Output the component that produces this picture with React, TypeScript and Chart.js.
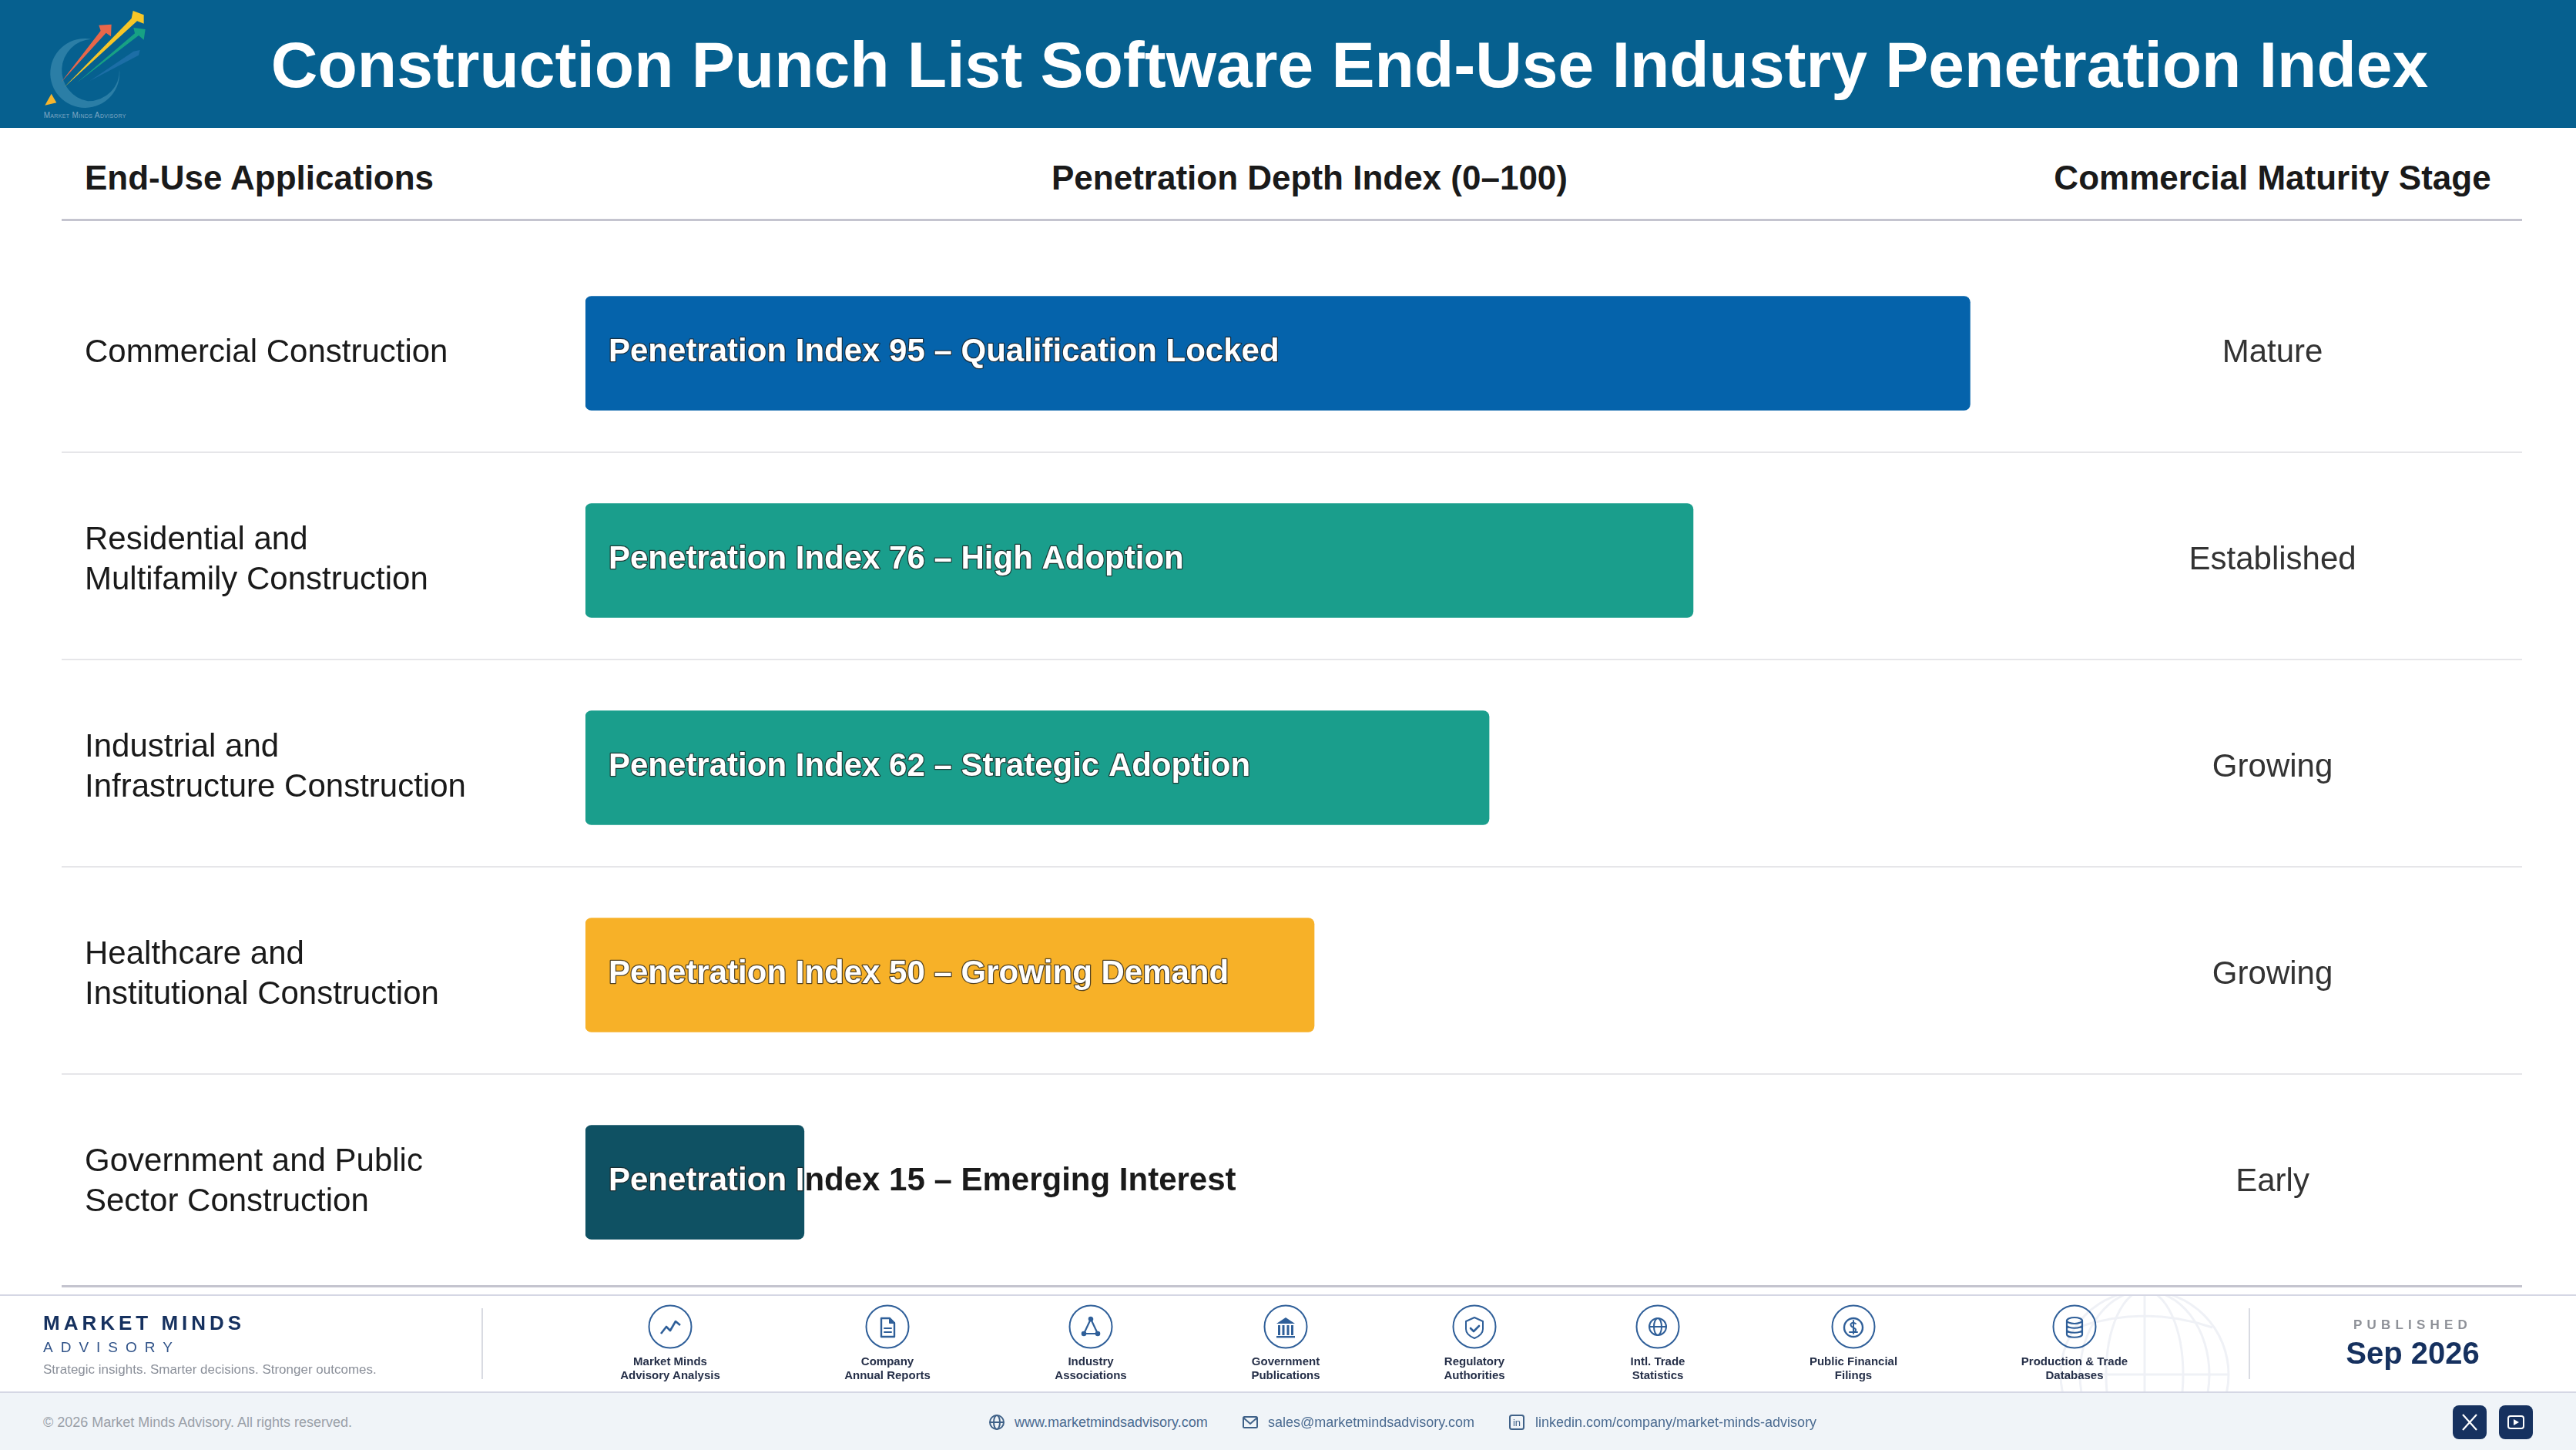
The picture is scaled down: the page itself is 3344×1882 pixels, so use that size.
import { useEffect, useRef, type CSSProperties, type ReactNode } from "react"
import Chart from "chart.js/auto"

const FONT = '"Liberation Sans", Arial, sans-serif'

const applications = [
  "Commercial Construction",
  ["Residential and", "Multifamily Construction"],
  ["Industrial and", "Infrastructure Construction"],
  ["Healthcare and", "Institutional Construction"],
  ["Government and Public", "Sector Construction"],
]
const penetrationIndex = [95, 76, 62, 50, 15]
const adoptionTiers = ["Qualification Locked", "High Adoption", "Strategic Adoption", "Growing Demand", "Emerging Interest"]
const maturityStages = ["Mature", "Established", "Growing", "Growing", "Early"]
const barColors = ["#0563ab", "#1a9e8c", "#1a9e8c", "#f7b128", "#0f5163"]

const sources = [
  { name: ["Market Minds", "Advisory Analysis"], x: 870, icon: "chart" },
  { name: ["Company", "Annual Reports"], x: 1152, icon: "doc" },
  { name: ["Industry", "Associations"], x: 1416, icon: "network" },
  { name: ["Government", "Publications"], x: 1669, icon: "bank" },
  { name: ["Regulatory", "Authorities"], x: 1914, icon: "shield" },
  { name: ["Intl. Trade", "Statistics"], x: 2152, icon: "globe" },
  { name: ["Public Financial", "Filings"], x: 2406, icon: "coin" },
  { name: ["Production & Trade", "Databases"], x: 2693, icon: "db" },
]

// value labels are white inside the bar and dark past its end
const barLabels = {
  id: "barLabels",
  beforeDatasetsDraw(chart: any) {
    const { ctx, scales } = chart
    ctx.save()
    ctx.strokeStyle = "#e6e6e9"
    ctx.lineWidth = 2
    for (let i = 0; i < penetrationIndex.length - 1; i++) {
      const y = Math.round(scales.y.getPixelForValue(i + 0.5)) - 6
      ctx.beginPath()
      ctx.moveTo(80, y)
      ctx.lineTo(3274, y)
      ctx.stroke()
    }
    ctx.restore()
  },
  afterDatasetsDraw(chart: any) {
    const { ctx } = chart
    const bars = chart.getDatasetMeta(0).data
    bars.forEach((bar: any, i: number) => {
      const text = `Penetration Index ${penetrationIndex[i]} – ${adoptionTiers[i]}`
      const tx = bar.base + 30
      const ty = bar.y - 1
      ctx.save()
      ctx.font = `bold 42px ${FONT}`
      ctx.textBaseline = "middle"
      ctx.textAlign = "left"
      ctx.fillStyle = "#1a1a1a"
      ctx.fillText(text, tx, ty)
      ctx.beginPath()
      ctx.rect(bar.base, bar.y - 74, bar.x - bar.base, 148)
      ctx.clip()
      ctx.fillStyle = "#ffffff"
      ctx.strokeStyle = "rgba(30,30,30,0.75)"
      ctx.lineWidth = 2.5
      ctx.lineJoin = "round"
      ctx.strokeText(text, tx, ty)
      ctx.fillText(text, tx, ty)
      ctx.restore()
    })
  },
}

function Txt({ x, y, align = "left", style, children }: { x: number; y: number; align?: "left" | "center"; style: CSSProperties; children: ReactNode }) {
  const tx = align === "center" ? "-50%" : "0"
  return (
    <div style={{ position: "absolute", left: x, top: y, transform: `translate(${tx},-50%)`, whiteSpace: "nowrap", fontFamily: FONT, textAlign: align, ...style }}>
      {children}
    </div>
  )
}

function Box({ x, y, w, h, color }: { x: number; y: number; w: number; h: number; color: string }) {
  return <div style={{ position: "absolute", left: x, top: y, width: w, height: h, background: color }} />
}

function SourceGlyph({ icon }: { icon: string }) {
  const c = "#2f5f99"
  const common = { fill: "none", stroke: c, strokeWidth: 2, strokeLinejoin: "round" as const, strokeLinecap: "round" as const }
  switch (icon) {
    case "chart":
      return <path d="M-12 9 L-5 0 L0 5 L7 -7 L13 -2" {...common} strokeWidth={2.6} strokeLinecap="butt" />
    case "doc":
      return (
        <g {...common}>
          <path d="M-8 -11 H3 L9 -5 V13 H-8 Z" strokeWidth={2.4} />
          <path d="M-4 2 H5 M-4 7 H5" />
          <path d="M3 -11 V-5 H9" fill={c} />
        </g>
      )
    case "network":
      return (
        <g {...common} strokeWidth={2.2}>
          <path d="M0 -10 L-9 9 H9 Z" />
          <circle cx={0} cy={-10} r={2.2} fill={c} />
          <circle cx={-9} cy={9} r={2.2} fill={c} />
          <circle cx={9} cy={9} r={2.2} fill={c} />
        </g>
      )
    case "bank":
      return (
        <g fill={c}>
          <path d="M0 -12 L12 -4 H-12 Z" />
          <rect x={-10} y={-2} width={3} height={13} />
          <rect x={-4.5} y={-2} width={3} height={13} />
          <rect x={1.5} y={-2} width={3} height={13} />
          <rect x={7} y={-2} width={3} height={13} />
          <rect x={-12} y={12} width={24} height={2.4} />
        </g>
      )
    case "shield":
      return (
        <g {...common}>
          <path d="M0 -12 L11 -7 V3 C11 9 5 13 0 15 C-5 13 -11 9 -11 3 V-7 Z" />
          <path d="M-5 2 L-1 6 L6 -1" strokeWidth={2.6} />
        </g>
      )
    case "globe":
      return (
        <g {...common}>
          <circle r={11} />
          <ellipse rx={5} ry={11} />
          <path d="M-11 0 H11" />
        </g>
      )
    case "coin":
      return (
        <g {...common}>
          <circle cy={1} r={12} strokeWidth={2.4} />
          <path d="M3 -4 C-1 -7 -5 -4 -3 -1 C-1 2 4 1 3 5 C2 8 -2 7 -5 7 H5 M0 -8 V9" />
        </g>
      )
    default:
      return (
        <g {...common} strokeWidth={2.2}>
          <ellipse cy={-8} rx={10} ry={4} />
          <path d="M-10 -8 V10 C-10 15 10 15 10 10 V-8 M-10 -2 C-10 3 10 3 10 -2 M-10 4 C-10 9 10 9 10 4" />
        </g>
      )
  }
}

function Logo() {
  return (
    <svg style={{ position: "absolute", left: 40, top: 0 }} width={170} height={166} viewBox="0 0 510 498">
      <path d="M235 152 A135 135 0 1 0 345 270 A122 118 0 0 1 222 394 A122 122 0 0 1 235 152 Z" fill="#2b7ea6" />
      <polygon points="230,315 400,200 425,195 420,215" fill="#1c6ea6" />
      <polygon points="118,320 272,120 265,98 314,95 312,142 293,128" fill="#e8674a" />
      <polygon points="180,322 405,130 400,108 446,114 440,155 420,138" fill="#17a184" />
      <polygon points="130,340 392,72 398,42 440,58 440,92 414,82" fill="#f6c627" />
      <polygon points="80,365 100,400 55,410" fill="#f6b52d" />
      <text x={210} y={460} textAnchor="middle" fontFamily={FONT} fontSize={30} fill="#7fa8c4" style={{ fontVariant: "small-caps" }} textLength={320}>
        Market Minds Advisory
      </text>
    </svg>
  )
}

export default function App() {
  const chartRef = useRef<HTMLCanvasElement>(null)

  useEffect(() => {
    if (!chartRef.current) return
    const chart = new Chart(chartRef.current, {
      type: "bar",
      data: {
        labels: applications as any,
        datasets: [
          {
            data: penetrationIndex,
            backgroundColor: barColors,
            borderRadius: 8,
            borderSkipped: false,
            barThickness: 148,
          },
        ],
      },
      plugins: [barLabels],
      options: {
        indexAxis: "y",
        animation: false,
        responsive: false,
        devicePixelRatio: 1,
        layout: { padding: { left: 110, top: 324, bottom: 213, right: 0 } },
        plugins: { legend: { display: false }, tooltip: { enabled: false } },
        scales: {
          x: { display: false, min: 0, max: 100 },
          y: {
            grid: { display: false },
            border: { display: false },
            afterFit: (s: any) => {
              s.width = 650
            },
            ticks: {
              crossAlign: "far",
              autoSkip: false,
              color: "#1a1a1a",
              font: { family: FONT, size: 42, lineHeight: 1.24 },
            },
          },
          y2: {
            type: "category",
            position: "right",
            offset: true,
            labels: maturityStages,
            grid: { display: false },
            border: { display: false },
            afterFit: (s: any) => {
              s.width = 692
            },
            ticks: {
              crossAlign: "center",
              autoSkip: false,
              padding: 181.5,
              color: "#333333",
              font: { family: FONT, size: 42 },
            },
          },
        },
      } as any,
    })
    return () => chart.destroy()
  }, [])

  const head: CSSProperties = { fontSize: 44, fontWeight: 700, color: "#1a1a1a" }
  const contact: CSSProperties = { fontSize: 18, color: "#4a6a90" }
  const iconStroke = { fill: "none", stroke: "#3f6188", strokeWidth: 2 }

  return (
    <div style={{ position: "absolute", left: 0, top: 0, width: 3344, height: 1882, overflow: "hidden", background: "#ffffff" }}>
      <Box x={0} y={0} w={3344} h={166} color="#06608f" />
      <Logo />
      <Txt x={1752} y={84} align="center" style={{ fontSize: 84, fontWeight: 700, color: "#ffffff" }}>
        Construction Punch List Software End-Use Industry Penetration Index
      </Txt>

      <Txt x={110} y={231} style={head}>End-Use Applications</Txt>
      <Txt x={1700} y={231} align="center" style={head}>Penetration Depth Index (0–100)</Txt>
      <Txt x={2950} y={231} align="center" style={head}>Commercial Maturity Stage</Txt>
      <Box x={80} y={284} w={3194} h={3} color="#c4c4cf" />
      <Box x={80} y={1668} w={3194} h={3} color="#c4c4cf" />

      <canvas ref={chartRef} width={3344} height={1882} style={{ position: "absolute", left: 0, top: 0 }} />

      <Box x={0} y={1680} w={3344} h={2} color="#d5d7e4" />
      <Box x={0} y={1806} w={3344} h={76} color="#f0f4f8" />
      <Box x={0} y={1806} w={3344} h={2} color="#d5d7e4" />

      <svg style={{ position: "absolute", left: 2660, top: 1682, opacity: 0.9 }} width={250} height={124} viewBox="0 -1 250 124">
        <g fill="none" stroke="#eef0f5" strokeWidth={3}>
          <circle cx={124} cy={101} r={109} />
          <ellipse cx={124} cy={101} rx={50} ry={109} />
          <ellipse cx={124} cy={101} rx={84} ry={109} />
          <path d="M124 -8 V210 M15 101 H233 M36 40 Q124 10 212 40" />
        </g>
      </svg>

      <Txt x={56} y={1717} style={{ fontSize: 26, fontWeight: 700, color: "#16315f", letterSpacing: 5 }}>MARKET MINDS</Txt>
      <Txt x={56} y={1749} style={{ fontSize: 19, color: "#2f5288", letterSpacing: 10 }}>ADVISORY</Txt>
      <Txt x={56} y={1778} style={{ fontSize: 17, color: "#8a8f99" }}>Strategic insights. Smarter decisions. Stronger outcomes.</Txt>
      <Box x={625} y={1698} w={2} h={92} color="#d9dbe2" />
      <Box x={2919} y={1698} w={2} h={92} color="#d9dbe2" />

      {sources.map((s) => (
        <div key={s.icon}>
          <svg style={{ position: "absolute", left: s.x - 30, top: 1692 }} width={60} height={60} viewBox="-30 -30 60 60">
            <circle r={27.5} fill="none" stroke="#2f5f99" strokeWidth={2} />
            <SourceGlyph icon={s.icon} />
          </svg>
          <Txt x={s.x} y={1776} align="center" style={{ fontSize: 15, fontWeight: 700, lineHeight: "18px", color: "#252f48" }}>
            {s.name[0]}
            <br />
            {s.name[1]}
          </Txt>
        </div>
      ))}

      <Txt x={3132} y={1720} align="center" style={{ fontSize: 17, color: "#8e9198", letterSpacing: 6.2, fontWeight: 700 }}>PUBLISHED</Txt>
      <Txt x={3132} y={1756} align="center" style={{ fontSize: 40, fontWeight: 700, color: "#16315f" }}>Sep 2026</Txt>

      <Txt x={56} y={1846} style={{ fontSize: 18, color: "#9aa0a8" }}>© 2026 Market Minds Advisory. All rights reserved.</Txt>

      <svg style={{ position: "absolute", left: 1283, top: 1835 }} width={22} height={22} viewBox="-11 -11 22 22">
        <g {...iconStroke}>
          <circle r={9} />
          <ellipse rx={4} ry={9} />
          <path d="M-9 0 H9" />
        </g>
      </svg>
      <Txt x={1317} y={1846} style={contact}>www.marketmindsadvisory.com</Txt>
      <svg style={{ position: "absolute", left: 1612, top: 1835 }} width={22} height={22} viewBox="-11 -11 22 22">
        <g {...iconStroke}>
          <rect x={-9} y={-7} width={18} height={14} rx={1.5} />
          <path d="M-9 -6 L0 2 L9 -6" />
        </g>
      </svg>
      <Txt x={1646} y={1846} style={contact}>sales@marketmindsadvisory.com</Txt>
      <svg style={{ position: "absolute", left: 1958, top: 1835 }} width={22} height={22} viewBox="-11 -11 22 22">
        <rect x={-9} y={-9} width={18} height={18} rx={2.5} {...iconStroke} />
        <text x={0} y={5} textAnchor="middle" fontFamily={FONT} fontSize={13} fill="#3f6188">in</text>
      </svg>
      <Txt x={1993} y={1846} style={contact}>linkedin.com/company/market-minds-advisory</Txt>

      <div style={{ position: "absolute", left: 3184, top: 1824, width: 44, height: 44, borderRadius: 8, background: "#16315f" }}>
        <svg width={44} height={44} viewBox="-22 -22 44 44">
          <path d="M-9 -10 L9 10 M9 -10 L-9 10" stroke="#ffffff" strokeWidth={2.2} />
        </svg>
      </div>
      <div style={{ position: "absolute", left: 3244, top: 1824, width: 44, height: 44, borderRadius: 8, background: "#16315f" }}>
        <svg width={44} height={44} viewBox="-22 -22 44 44">
          <rect x={-10} y={-8} width={20} height={16} rx={3} fill="none" stroke="#ffffff" strokeWidth={2} />
          <path d="M-3 -4 L4 0 L-3 4 Z" fill="#ffffff" />
        </svg>
      </div>
    </div>
  )
}
